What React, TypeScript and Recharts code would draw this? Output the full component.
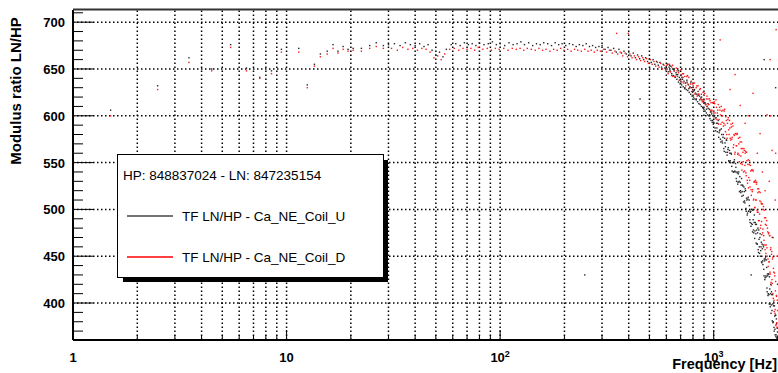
import { ScatterChart, Scatter, XAxis, YAxis, ReferenceLine } from "recharts"

const FONT = "'Liberation Sans', Arial, Helvetica, sans-serif"

// axis ticks
const xDecades = [1, 10, 100, 1000]
const xTicks = [1, 2, 3, 4, 5, 6, 7, 8, 9, 10, 20, 30, 40, 50, 60, 70, 80, 90, 100, 200, 300, 400, 500, 600, 700, 800, 900, 1000, 2000]
const xGrid = [2, 3, 4, 5, 6, 7, 8, 9, 10, 20, 30, 40, 50, 60, 70, 80, 90, 100, 200, 300, 400, 500, 600, 700, 800, 900, 1000]
const yTicks = [370, 380, 390, 400, 410, 420, 430, 440, 450, 460, 470, 480, 490, 500, 510, 520, 530, 540, 550, 560, 570, 580, 590, 600, 610, 620, 630, 640, 650, 660, 670, 680, 690, 700, 710]
const yGrid = [400, 450, 500, 550, 600, 650, 700]

const legendHeader = "HP: 848837024 - LN: 847235154"
const seriesNames = ["TF LN/HP - Ca_NE_Coil_U", "TF LN/HP - Ca_NE_Coil_D"]

// [frequency Hz, modulus ratio] - Ca_NE_Coil_U (black)
const coilULow = [
  [1.5, 606], [2.49, 632], [3.49, 662], [4.46, 650], [5.47, 676], [6.49, 651], [7.49, 641], [8.5, 648], [9.46, 671],
  [11.4, 672], [12.5, 633], [13.5, 655], [14.4, 666], [15.5, 669], [16.5, 676], [17.4, 669], [18.4, 674], [19.4, 671],
  [20.5, 672], [22.4, 672], [24.5, 675], [26.3, 678], [28.4, 675],
  [30, 676], [32, 677], [34, 675], [36, 678], [38, 676], [40, 675], [42, 677], [44, 674], [46, 676], [48, 670],
  [50, 665], [52, 668], [54, 663], [56, 671], [59, 676], [62, 677], [65, 675], [68, 678], [71, 676], [74, 677],
  [77, 675], [80, 678], [84, 676], [88, 677], [92, 679], [96, 676], [100, 677], [105, 675], [110, 678], [115, 676],
  [120, 677], [125, 679], [130, 676], [136, 678], [142, 675], [148, 677], [154, 676], [160, 678], [167, 677],
  [174, 675], [181, 678], [188, 676], [195, 677], [203, 675], [211, 677], [219, 676], [227, 674], [235, 676],
  [244, 675], [253, 677], [262, 674], [271, 675], [280, 673], [290, 674],
]
const coilUMid = [
  [300, 675], [310, 671], [320, 673], [330, 670], [340, 672], [350, 668], [360, 671], [370, 667], [380, 669],
  [390, 666], [400, 668], [410, 664], [420, 667], [430, 662], [440, 665], [450, 661], [460, 664], [470, 660],
  [480, 662], [490, 658], [500, 661], [510, 657], [520, 660], [530, 655], [540, 658], [550, 654], [560, 657],
  [570, 652], [580, 655], [590, 651], [600, 653],
  [608, 655], [612, 647], [618, 652], [624, 648], [630, 653], [636, 645], [642, 650], [648, 643], [654, 648],
  [660, 641], [666, 646], [672, 639], [678, 644], [684, 636], [690, 641], [696, 634], [702, 643], [708, 633],
  [714, 639], [720, 631], [726, 637], [732, 629], [738, 635], [744, 628], [750, 636], [756, 627], [762, 633],
  [768, 625], [774, 631], [780, 623], [786, 630], [792, 621], [798, 628], [804, 620], [810, 627], [816, 618],
  [822, 624], [828, 617], [834, 623], [840, 615], [846, 622], [852, 613], [858, 621], [864, 612], [870, 619],
  [876, 610], [882, 617], [888, 609], [894, 615], [900, 607], [906, 614], [912, 605], [918, 612], [924, 603],
  [930, 610], [936, 601], [942, 608], [948, 600], [954, 607], [960, 597], [966, 604], [972, 595], [978, 602],
  [984, 593], [990, 600], [996, 591],
  [605, 650], [621, 654], [637, 643], [653, 650], [669, 644], [685, 648], [701, 637], [717, 641], [733, 630],
  [749, 638], [765, 629], [781, 636], [797, 625], [813, 628], [829, 618], [845, 626], [861, 617], [877, 620],
  [893, 608], [909, 614], [925, 607], [941, 613], [957, 601], [973, 605], [989, 595],
]
const coilUHigh = [
  [1005, 599], [1015, 587], [1025, 598], [1035, 587], [1045, 592], [1055, 577], [1065, 584], [1075, 575], [1085, 586],
  [1095, 573], [1105, 577], [1115, 565], [1125, 576], [1135, 567], [1145, 574], [1155, 558], [1165, 564], [1175, 552],
  [1185, 563], [1195, 552], [1205, 560], [1215, 546], [1225, 550], [1235, 540], [1245, 551], [1255, 541], [1265, 549],
  [1275, 533], [1285, 540], [1295, 527], [1305, 538], [1315, 530], [1325, 535], [1335, 520], [1345, 526], [1355, 514],
  [1365, 526], [1375, 515], [1385, 524], [1395, 509], [1405, 522], [1415, 501], [1425, 512], [1435, 494], [1445, 511],
  [1455, 498], [1465, 510], [1475, 489], [1485, 497], [1495, 482], [1505, 500], [1515, 484], [1525, 499], [1535, 478],
  [1545, 486], [1555, 469], [1565, 486], [1575, 474], [1585, 484], [1595, 463], [1605, 475], [1615, 457], [1625, 478],
  [1635, 460], [1645, 470], [1655, 450], [1665, 460], [1675, 444], [1685, 463], [1695, 445], [1705, 462], [1715, 436],
  [1725, 447], [1735, 425], [1745, 447], [1755, 429], [1765, 446], [1775, 416], [1785, 431], [1795, 408], [1805, 431],
  [1815, 409], [1825, 428], [1835, 399], [1845, 410], [1855, 389], [1865, 412], [1875, 392], [1885, 409], [1895, 379],
  [1905, 397], [1915, 374], [1925, 397], [1935, 372], [1945, 387], [1955, 364], [1965, 383], [1975, 363], [1985, 373],
  [1995, 364],
  [1000, 593], [1010, 600], [1020, 584], [1030, 592], [1040, 583], [1050, 595], [1060, 582], [1070, 585], [1080, 572],
  [1090, 580], [1100, 571], [1110, 580], [1120, 562], [1130, 571], [1140, 561], [1150, 574], [1160, 561], [1170, 566],
  [1180, 551], [1190, 560], [1200, 550], [1210, 559], [1220, 541], [1230, 550], [1240, 540], [1250, 553], [1260, 540],
  [1270, 545], [1280, 530], [1290, 539], [1300, 529], [1310, 540], [1320, 519], [1330, 529], [1340, 518], [1350, 533],
  [1360, 519], [1370, 525], [1380, 508], [1390, 519], [1400, 507], [1410, 520], [1420, 498], [1430, 510], [1440, 496],
  [1450, 513], [1460, 498], [1470, 504], [1480, 486], [1490, 498], [1500, 485], [1510, 500], [1520, 476], [1530, 489],
  [1540, 475], [1550, 494], [1560, 477], [1570, 484], [1580, 464], [1590, 478], [1600, 463], [1610, 480], [1620, 454],
  [1630, 468], [1640, 453], [1650, 474], [1660, 456], [1670, 465], [1680, 443], [1690, 458], [1700, 441], [1710, 460],
  [1720, 429], [1730, 445], [1740, 427], [1750, 449], [1760, 428], [1770, 438], [1780, 412], [1790, 429], [1800, 410],
  [1810, 431], [1820, 399], [1830, 415], [1840, 396], [1850, 420], [1860, 398], [1870, 409], [1880, 381], [1890, 399],
  [1900, 380], [1910, 401], [1920, 370], [1930, 386], [1940, 366], [1950, 387], [1960, 366], [1970, 378], [1980, 362],
  [1990, 369],
]
const coilUOutliers = [
  [249, 430], [452, 618], [1723, 660], [1497, 430], [1950, 630], [1880, 470], [1990, 420],
]

// [frequency Hz, modulus ratio] - Ca_NE_Coil_D (red)
const coilDLow = [
  [1.5, 600], [2.49, 628], [3.49, 657], [4.46, 648], [5.47, 673], [6.49, 648], [7.49, 640], [8.5, 645], [9.46, 668],
  [11.4, 668], [12.5, 630], [13.5, 653], [14.4, 663], [15.5, 666], [16.5, 672], [17.4, 667], [18.4, 671], [19.4, 669],
  [20.5, 670], [22.4, 669], [24.5, 672], [26.3, 674], [28.4, 672],
  [31, 672], [33, 670], [35, 673], [37, 671], [39, 672], [41, 670], [43, 672], [45, 671], [47, 668], [49, 662],
  [51, 664], [53, 660], [55, 666], [58, 671], [61, 672], [64, 670], [67, 672], [70, 671], [73, 672], [76, 670],
  [79, 673], [83, 671], [87, 672], [91, 670], [95, 672], [99, 671], [104, 672], [109, 670], [114, 672], [119, 671],
  [124, 672], [129, 670], [134, 672], [140, 671], [146, 670], [152, 672], [158, 670], [164, 671], [171, 669],
  [178, 671], [185, 670], [192, 672], [199, 670], [207, 671], [215, 669], [223, 671], [231, 670], [240, 669],
  [249, 671], [258, 669], [267, 670], [276, 668], [285, 670], [295, 669],
]
const coilDMid = [
  [305, 671], [315, 668], [325, 670], [335, 667], [345, 669], [355, 666], [365, 668], [375, 664], [385, 667],
  [395, 663], [405, 666], [415, 662], [425, 664], [435, 660], [445, 663], [455, 659], [465, 662], [475, 658],
  [485, 661], [495, 656], [505, 660], [515, 655], [525, 658], [535, 653], [545, 657], [555, 652], [565, 656],
  [575, 650], [585, 654], [595, 649],
  [604, 654], [612, 645], [620, 655], [628, 647], [636, 652], [644, 642], [652, 648], [660, 642], [668, 651],
  [676, 642], [684, 646], [692, 638], [700, 649], [708, 641], [716, 645], [724, 635], [732, 642], [740, 632],
  [748, 642], [756, 634], [764, 641], [772, 630], [780, 634], [788, 626], [796, 634], [804, 628], [812, 635],
  [820, 624], [828, 630], [836, 621], [844, 632], [852, 623], [860, 628], [868, 618], [876, 623], [884, 615],
  [892, 625], [900, 616], [908, 624], [916, 613], [924, 618], [932, 610], [940, 618], [948, 612], [956, 618],
  [964, 606], [972, 614], [980, 606], [988, 614], [996, 605],
  [610, 655], [626, 647], [642, 654], [658, 642], [674, 648], [690, 638], [706, 644], [722, 645], [738, 635],
  [754, 643], [770, 630], [786, 637], [802, 632], [818, 623], [834, 632], [850, 623], [866, 629], [882, 617],
  [898, 622], [914, 612], [930, 621], [946, 612], [962, 616], [978, 604], [994, 614],
]
const coilDHigh = [
  [1000, 603], [1010, 613], [1020, 597], [1030, 609], [1040, 603], [1050, 612], [1060, 596], [1070, 606], [1080, 591],
  [1090, 605], [1100, 600], [1110, 589], [1120, 605], [1130, 590], [1140, 599], [1150, 580], [1160, 592], [1170, 598],
  [1180, 580], [1190, 587], [1200, 574], [1210, 588], [1220, 577], [1230, 589], [1240, 569], [1250, 579], [1260, 561],
  [1270, 581], [1280, 568], [1290, 581], [1300, 560], [1310, 570], [1320, 551], [1330, 572], [1340, 557], [1350, 572],
  [1360, 548], [1370, 561], [1380, 540], [1390, 563], [1400, 547], [1410, 562], [1420, 536], [1430, 552], [1440, 528],
  [1450, 553], [1460, 534], [1470, 552], [1480, 524], [1490, 541], [1500, 515], [1510, 542], [1520, 521], [1530, 541],
  [1540, 511], [1550, 530], [1560, 502], [1570, 531], [1580, 510], [1590, 529], [1600, 497], [1610, 518], [1620, 488],
  [1630, 519], [1640, 495], [1650, 518], [1660, 483], [1670, 506], [1680, 473], [1690, 506], [1700, 479], [1710, 503],
  [1720, 467], [1730, 491], [1740, 457], [1750, 491], [1760, 462], [1770, 488], [1780, 450], [1790, 476], [1800, 439],
  [1810, 475], [1820, 444], [1830, 472], [1840, 431], [1850, 459], [1860, 419], [1870, 455], [1880, 421], [1890, 449],
  [1900, 405], [1910, 433], [1920, 391], [1930, 429], [1940, 393], [1950, 423], [1960, 377], [1970, 407], [1980, 374],
  [1990, 392],
  [1005, 615], [1015, 603], [1025, 617], [1035, 596], [1045, 606], [1055, 591], [1065, 609], [1075, 601], [1085, 610],
  [1095, 593], [1105, 606], [1115, 592], [1125, 607], [1135, 583], [1145, 595], [1155, 576], [1165, 596], [1175, 585],
  [1185, 595], [1195, 576], [1205, 591], [1215, 575], [1225, 592], [1235, 566], [1245, 580], [1255, 559], [1265, 581],
  [1275, 568], [1285, 580], [1295, 559], [1305, 576], [1315, 558], [1325, 577], [1335, 549], [1345, 565], [1355, 542],
  [1365, 565], [1375, 551], [1385, 565], [1395, 541], [1405, 560], [1415, 539], [1425, 561], [1435, 531], [1445, 548],
  [1455, 523], [1465, 548], [1475, 531], [1485, 547], [1495, 521], [1505, 542], [1515, 519], [1525, 542], [1535, 510],
  [1545, 529], [1555, 502], [1565, 529], [1575, 510], [1585, 527], [1595, 499], [1605, 522], [1615, 497], [1625, 522],
  [1635, 488], [1645, 509], [1655, 480], [1665, 508], [1675, 487], [1685, 506], [1695, 475], [1705, 500], [1715, 472],
  [1725, 499], [1735, 462], [1745, 484], [1755, 453], [1765, 483], [1775, 459], [1785, 480], [1795, 447], [1805, 474],
  [1815, 444], [1825, 472], [1835, 433], [1845, 457], [1855, 422], [1865, 452], [1875, 425], [1885, 447], [1895, 410],
  [1905, 437], [1915, 403], [1925, 432], [1935, 389], [1945, 413], [1955, 376], [1965, 408], [1975, 379], [1985, 403],
  [1995, 374],
]
const coilDOutliers = [
  [351, 688], [398, 688], [710, 636], [1072, 681], [1193, 628], [1259, 644], [1331, 611], [1403, 592], [1450, 600],
  [1528, 624], [1600, 560], [1648, 581], [1690, 540], [1740, 520], [1778, 601], [1820, 530], [1837, 660], [1850, 600],
  [1877, 563], [1900, 470], [1941, 510], [1950, 560], [1960, 692], [1980, 450],
]

const toPoints = (rows: number[][]) => rows.map(([f, v]) => ({ f, v }))
const coilU = toPoints([...coilULow, ...coilUMid, ...coilUHigh, ...coilUOutliers])
const coilD = toPoints([...coilDLow, ...coilDMid, ...coilDHigh, ...coilDOutliers])

const dot = (color: string) => (props: any) => (
  <rect x={props.cx - 0.7} y={props.cy - 0.7} width={1.4} height={1.4} fill={color} />
)

const supers: Record<number, string> = { 100: "2", 1000: "3" }

function XTick(props: any) {
  const { x, y, payload } = props
  const v = payload.value
  const isMajor = xDecades.includes(v)
  return (
    <g>
      <line x1={x} x2={x} y1={y} y2={y - (isMajor ? 10 : 5)} stroke="#000" strokeWidth={1} />
      {isMajor && (
        <text x={x} y={y + 22} textAnchor="middle" fontFamily={FONT} fontWeight="bold" fontSize={13} fill="#000">
          {v >= 100 ? "10" : String(v)}
          {supers[v] && (
            <tspan dy={-5} fontSize={9}>
              {supers[v]}
            </tspan>
          )}
        </text>
      )}
    </g>
  )
}

function YTick(props: any) {
  const { x, y, payload } = props
  const v = payload.value
  const isMajor = v % 50 === 0
  return (
    <g>
      <line x1={x} x2={x + (isMajor ? 20 : 10)} y1={y} y2={y} stroke="#000" strokeWidth={1} />
      {isMajor && (
        <text x={x - 8} y={y + 5} textAnchor="end" fontFamily={FONT} fontWeight="bold" fontSize={13} fill="#000">
          {v}
        </text>
      )}
    </g>
  )
}

export default function App() {
  return (
    <div style={{ position: "absolute", left: 0, top: 0, width: 778, height: 373, background: "#fff" }}>
      <ScatterChart width={778} height={373} margin={{ top: 10, right: 0, bottom: 0, left: 0 }}>
        <XAxis
          type="number"
          dataKey="f"
          scale="log"
          domain={[1, 2000]}
          allowDataOverflow
          ticks={xTicks}
          interval={0}
          height={33}
          tickSize={0}
          tickMargin={0}
          tickLine={false}
          tick={<XTick />}
          axisLine={{ stroke: "#000", strokeWidth: 2 }}
        />
        <YAxis
          type="number"
          dataKey="v"
          domain={[360.5, 713]}
          allowDataOverflow
          ticks={yTicks}
          interval={0}
          width={73}
          tickSize={0}
          tickMargin={0}
          tickLine={false}
          tick={<YTick />}
          axisLine={{ stroke: "#000", strokeWidth: 2 }}
        />
        {xGrid.map((v) => (
          <ReferenceLine key={"x" + v} x={v} stroke="#000" strokeWidth={1.5} strokeDasharray="1.5 2.5" />
        ))}
        {yGrid.map((v) => (
          <ReferenceLine key={"y" + v} y={v} stroke="#000" strokeWidth={1.5} strokeDasharray="1.5 2.5" />
        ))}
        <Scatter name={seriesNames[0]} data={coilU} shape={dot("#262626")} isAnimationActive={false} />
        <Scatter name={seriesNames[1]} data={coilD} shape={dot("#ff1a1a")} isAnimationActive={false} />
      </ScatterChart>

      <svg width={778} height={373} style={{ position: "absolute", left: 0, top: 0, pointerEvents: "none" }}>
        <line x1={73} x2={778} y1={9.5} y2={9.5} stroke="#333" strokeWidth={2} />
        <text
          transform="translate(21,91) rotate(-90)"
          textAnchor="middle"
          fontFamily={FONT}
          fontWeight="bold"
          fontSize={15}
          fill="#000"
        >
          Modulus ratio LN/HP
        </text>
        <text x={777} y={369} textAnchor="end" fontFamily={FONT} fontWeight="bold" fontSize={14.5} fill="#000">
          Frequency [Hz]
        </text>

        <rect x={123} y={160} width={265} height={122} fill="#000" />
        <rect x={117.5} y={154.5} width={266} height={123} fill="#fff" stroke="#000" strokeWidth={1} />
        <text x={123} y={180} fontFamily={FONT} fontSize={13.5} fill="#000">
          {legendHeader}
        </text>
        <line x1={127} x2={173} y1={216} y2={216} stroke="#444" strokeWidth={1.5} />
        <text x={182} y={221} fontFamily={FONT} fontSize={13.5} fill="#000">
          {seriesNames[0]}
        </text>
        <line x1={127} x2={173} y1={257} y2={257} stroke="#ff0000" strokeWidth={1.5} />
        <text x={182} y={262} fontFamily={FONT} fontSize={13.5} fill="#000">
          {seriesNames[1]}
        </text>
      </svg>
    </div>
  )
}
